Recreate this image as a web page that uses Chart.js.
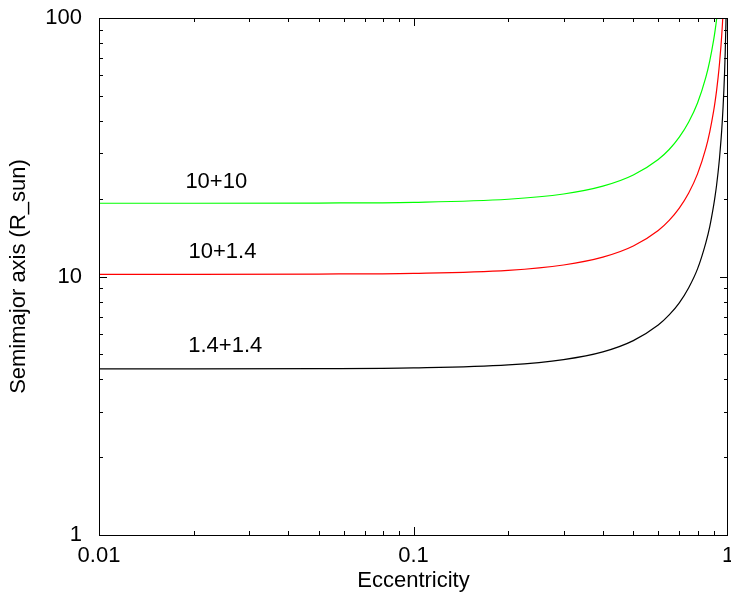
<!DOCTYPE html>
<html>
<head>
<meta charset="utf-8">
<script src="https://cdn.jsdelivr.net/npm/chart.js@4/dist/chart.umd.min.js"></script>
<style>
  html, body { margin: 0; padding: 0; background: #fff; }
  #wrap { width: 731px; height: 600px; }
</style>
</head>
<body>
<div id="wrap"><canvas id="orbitChart" width="731" height="600"></canvas></div>
<script>
// eccentricity sample points (x) and semimajor axis for each mass pair (y, R_sun)
const eccentricity = [0.01, 0.02, 0.05, 0.1, 0.2, 0.3, 0.4, 0.5, 0.6, 0.65, 0.7, 0.75, 0.8, 0.85, 0.875,
    0.9, 0.91, 0.92, 0.93, 0.94, 0.95, 0.955, 0.96, 0.965, 0.97, 0.975, 0.98, 0.985, 0.99];
const axis_14_14 = [4.39, 4.39, 4.40, 4.43, 4.55, 4.77, 5.11, 5.65, 6.49, 7.10, 7.91, 9.05, 10.7, 13.5, 15.6,
    18.8, 20.5, 22.6, 25.3, 28.8, 33.7, 36.8, 40.7, 45.7, 52.2, 61.0, 74.0, 95.0, 135];
const axis_10_14 = [10.2, 10.2, 10.22, 10.29, 10.57, 11.08, 11.88, 13.12, 15.07, 16.49, 18.39, 21.03, 24.94, 31.3, 36.3,
    43.6, 47.6, 52.5, 58.8, 67.0, 78.2, 85.6, 94.6, 106];
const axis_10_10 = [19.2, 19.2, 19.24, 19.37, 19.9, 20.85, 22.36, 24.7, 28.37, 31.0, 34.6, 39.6, 46.9, 58.9, 68.3,
    82.1, 89.6, 98.9, 110.6];

const xTickLabels = [0.01, 0.1, 1];
const yTickLabels = [1, 10, 100];

// curve annotations
const noteText = ['10+10', '10+1.4', '1.4+1.4'];
const noteX = [0.0236, 0.0247, 0.0252];
const noteY = [23.2, 12.4, 5.41];

const FONT = 'Liberation Sans, Arial, Helvetica, sans-serif';

function toPoints(vals) {
    return vals.map((v, i) => ({ x: eccentricity[i], y: v }));
}

// frame, inward ticks on all four sides, and curve labels
const framePlugin = {
    id: 'frame',
    afterDatasetsDraw(chart) {
        const { ctx, chartArea: a, scales } = chart;
        const xs = scales.x, ys = scales.y;
        ctx.save();
        ctx.strokeStyle = '#000';
        ctx.lineWidth = 1;
        ctx.beginPath();
        for (let d = -2; d < 0; d++) {
            for (let m = 1; m < 10; m++) {
                const v = m * Math.pow(10, d);
                const px = Math.round(xs.getPixelForValue(v)) + 0.5;
                const len = m === 1 ? 8 : 4;
                ctx.moveTo(px, a.bottom); ctx.lineTo(px, a.bottom - len);
                ctx.moveTo(px, a.top); ctx.lineTo(px, a.top + len);
            }
        }
        for (let d = 0; d < 2; d++) {
            for (let m = 1; m < 10; m++) {
                const v = m * Math.pow(10, d);
                const py = Math.round(ys.getPixelForValue(v)) + 0.5;
                const len = m === 1 ? 8 : 4;
                ctx.moveTo(a.left, py); ctx.lineTo(a.left + len, py);
                ctx.moveTo(a.right, py); ctx.lineTo(a.right - len, py);
            }
        }
        ctx.stroke();
        ctx.strokeRect(Math.round(a.left) + 0.5, Math.round(a.top) + 0.5,
            Math.round(a.right - a.left) - 1, Math.round(a.bottom - a.top));

        ctx.fillStyle = '#000';
        ctx.font = '22px ' + FONT;
        ctx.textAlign = 'center';
        ctx.textBaseline = 'middle';
        noteText.forEach((t, i) => {
            ctx.fillText(t, xs.getPixelForValue(noteX[i]), ys.getPixelForValue(noteY[i]));
        });
        ctx.restore();
    }
};

const ctx = document.getElementById('orbitChart').getContext('2d');
const orbitChart = new Chart(ctx, {
    type: 'scatter',
    data: {
        datasets: [
            { label: '1.4+1.4', data: toPoints(axis_14_14), borderColor: '#000000' },
            { label: '10+1.4', data: toPoints(axis_10_14), borderColor: '#ff0000' },
            { label: '10+10', data: toPoints(axis_10_10), borderColor: '#00ff00' }
        ].map(ds => Object.assign(ds, {
            showLine: true,
            pointRadius: 0,
            borderWidth: 1.2,
            cubicInterpolationMode: 'monotone',
            fill: false
        }))
    },
    options: {
        responsive: false,
        animation: false,
        devicePixelRatio: 1,
        layout: { padding: { top: 18, right: 3, left: 0, bottom: 0 } },
        plugins: {
            legend: { display: false },
            tooltip: { enabled: false }
        },
        scales: {
            x: {
                type: 'logarithmic',
                min: 0.01,
                max: 1,
                grid: { display: false },
                border: { display: false },
                ticks: {
                    autoSkip: false,
                    maxRotation: 0,
                    padding: 0,
                    color: '#000',
                    font: { family: FONT, size: 22 },
                    callback: v => xTickLabels.includes(Number(v)) ? String(Number(v)) : ''
                },
                title: {
                    display: true,
                    text: 'Eccentricity',
                    color: '#000',
                    font: { family: FONT, size: 22 },
                    padding: { top: 0, bottom: 6 }
                },
                afterFit: scale => {
                    scale.height = 65;
                    scale.paddingLeft = 0;
                    scale.paddingRight = 0;
                }
            },
            y: {
                type: 'logarithmic',
                min: 1,
                max: 100,
                grid: { display: false },
                border: { display: false },
                ticks: {
                    autoSkip: false,
                    padding: 9,
                    color: '#000',
                    font: { family: FONT, size: 22 },
                    callback: v => yTickLabels.includes(Number(v)) ? String(Number(v)) : ''
                },
                title: {
                    display: true,
                    text: 'Semimajor axis (R_sun)',
                    color: '#000',
                    font: { family: FONT, size: 22 },
                    padding: { top: 6, bottom: 0 }
                },
                afterFit: scale => {
                    scale.width = 99;
                    scale.paddingTop = 0;
                    scale.paddingBottom = 0;
                }
            }
        }
    },
    plugins: [framePlugin]
});
</script>
</body>
</html>
